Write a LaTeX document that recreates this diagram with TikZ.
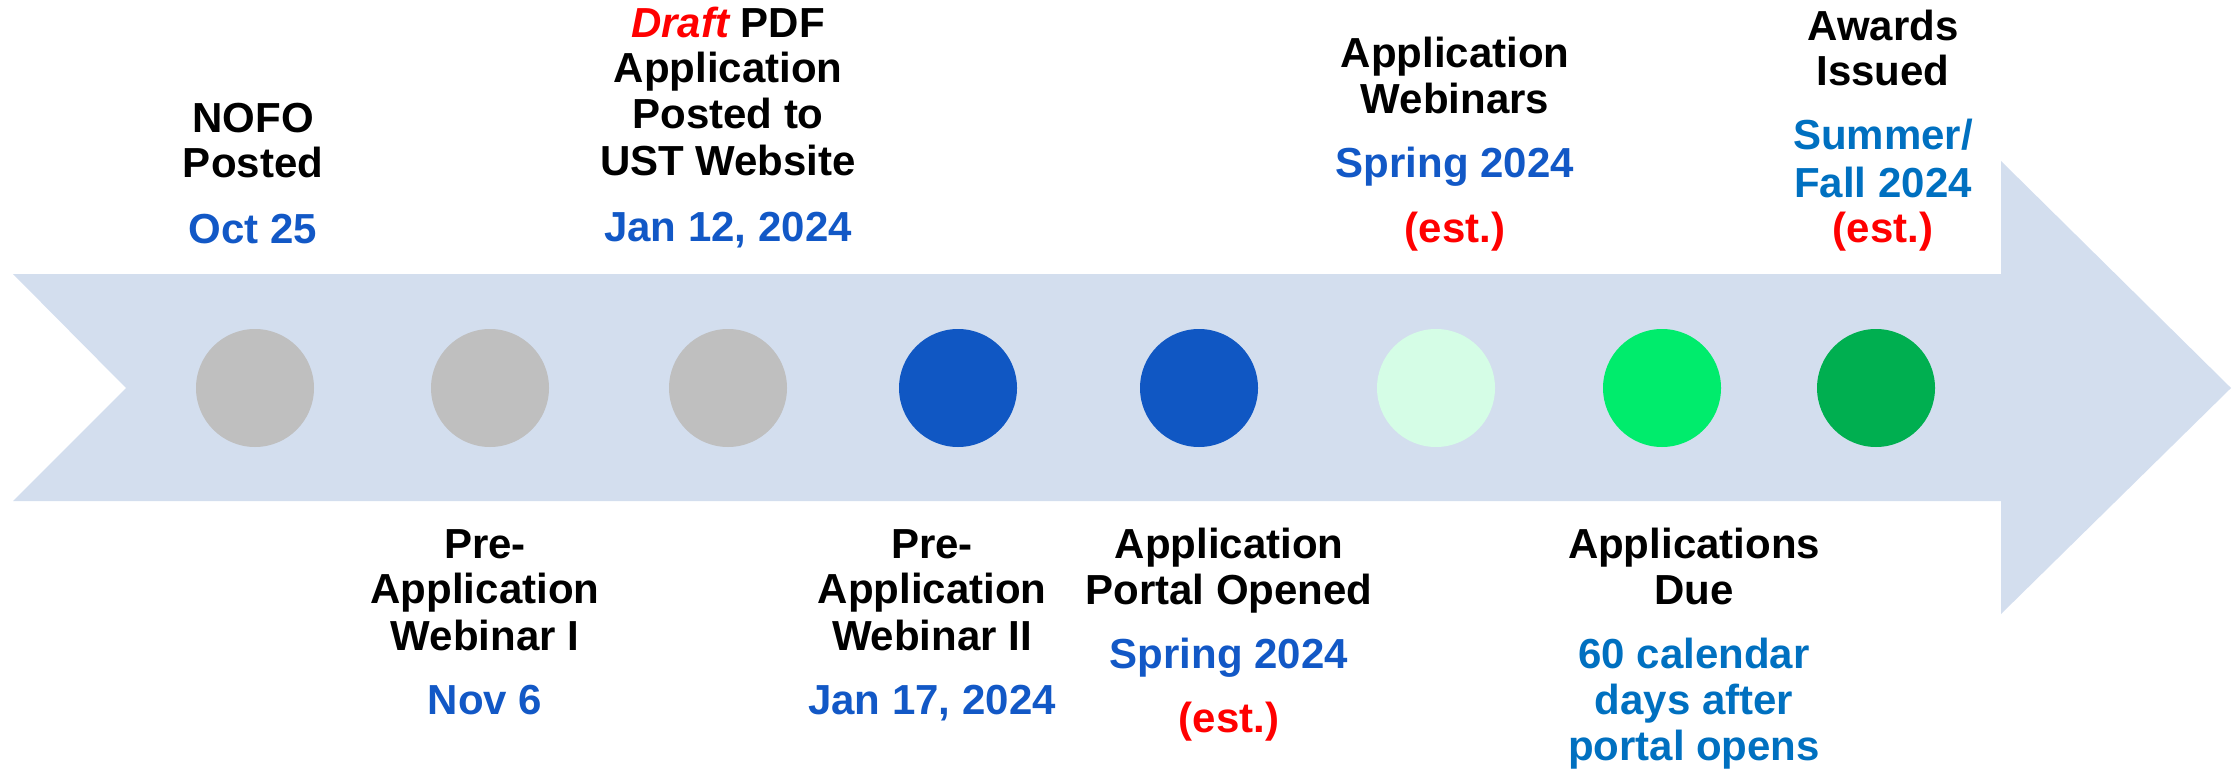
\documentclass[tikz,border=0pt]{standalone}
\usepackage{fontspec}
\setmainfont{Liberation Sans}
\definecolor{arrowfill}{HTML}{D3DEEE}
\definecolor{doneGray}{HTML}{BFBFBF}
\definecolor{nowBlue}{HTML}{1057C3}
\definecolor{mint}{HTML}{D5FDE6}
\definecolor{brightGreen}{HTML}{00EC6C}
\definecolor{darkGreen}{HTML}{00AF50}
\definecolor{dateBlue}{HTML}{1258C6}
\definecolor{estBlue}{HTML}{0070C0}
\definecolor{estRed}{HTML}{FF0000}
\tikzset{
  lbl/.style={anchor=base, inner sep=0pt, font=\fontsize{42}{46}\selectfont\bfseries},
  title/.style={lbl, text=black},
  date/.style={lbl, text=dateBlue},
  soft/.style={lbl, text=estBlue},
  est/.style={lbl, text=estRed},
  dot/.style={circle, minimum size=118pt, inner sep=0pt, draw=none},
}
\begin{document}
\begin{tikzpicture}[x=1pt,y=-1pt]
\useasboundingbox (0,0) rectangle (2234,770);

% timeline arrow
\fill[arrowfill] (13,274) -- (2001,274) -- (2001,161) -- (2231,388)
  -- (2001,614) -- (2001,501) -- (13,501) -- (126,388) -- cycle;

% milestone dots
\node[dot, fill=doneGray]    (m1) at (255,388) {};
\node[dot, fill=doneGray]    (m2) at (490,388) {};
\node[dot, fill=doneGray]    (m3) at (728,388) {};
\node[dot, fill=nowBlue]     (m4) at (958,388) {};
\node[dot, fill=nowBlue]     (m5) at (1199,388) {};
\node[dot, fill=mint]        (m6) at (1436,388) {};
\node[dot, fill=brightGreen] (m7) at (1662,388) {};
\node[dot, fill=darkGreen]   (m8) at (1876,388) {};

% labels above the arrow
\node[title] (nofoA) at (253,133) {NOFO};
\node[title] (nofoB) at (253,178) {Posted};
\node[date]  (nofoD) at (253,243) {Oct 25};

\node[title] (draftA) at (728,38) {\textcolor{estRed}{\itshape Draft} PDF};
\node[title] (draftB) at (728,83) {Application};
\node[title] (draftC) at (728,129) {Posted to};
\node[title] (draftD) at (728,176) {UST Website};
\node[date]  (draftE) at (728,241) {Jan 12, 2024};

\node[title] (webA) at (1455,68) {Application};
\node[title] (webB) at (1455,114) {Webinars};
\node[date]  (webD) at (1455,178) {Spring 2024};
\node[est]   (webE) at (1455,242) {(est.)};

\node[title] (awdA) at (1883,41) {Awards};
\node[title] (awdB) at (1883,86) {Issued};
\node[soft]  (awdD) at (1883,150) {Summer/};
\node[soft]  (awdE) at (1883,197) {Fall 2024};
\node[est]   (awdF) at (1883,242) {(est.)};

% labels below the arrow
\node[title] (preAa) at (485,558) {Pre-};
\node[title] (preAb) at (485,603) {Application};
\node[title] (preAc) at (485,650) {Webinar I};
\node[date]  (preAd) at (485,714) {Nov 6};

\node[title] (preBa) at (932,558) {Pre-};
\node[title] (preBb) at (932,603) {Application};
\node[title] (preBc) at (932,650) {Webinar II};
\node[date]  (preBd) at (932,714) {Jan 17, 2024};

\node[title] (porA) at (1229,558) {Application};
\node[title] (porB) at (1229,604) {Portal Opened};
\node[date]  (porD) at (1229,668) {Spring 2024};
\node[est]   (porE) at (1229,732) {(est.)};

\node[title] (dueA) at (1694,558) {Applications};
\node[title] (dueB) at (1694,604) {Due};
\node[soft]  (dueD) at (1694,668) {60 calendar};
\node[soft]  (dueE) at (1694,714) {days after};
\node[soft]  (dueF) at (1694,760) {portal opens};
\end{tikzpicture}
\end{document}
